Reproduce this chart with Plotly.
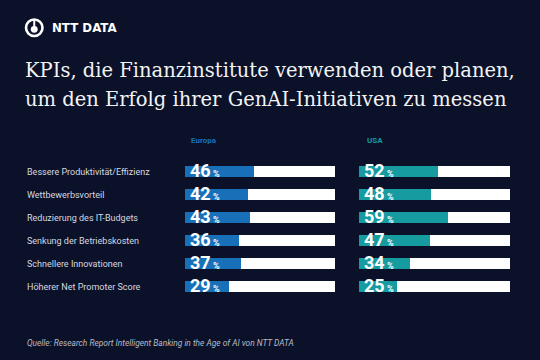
import plotly.graph_objects as go

categories = ["Bessere Produktivität/Effizienz", "Wettbewerbsvorteil", "Reduzierung des IT-Budgets",
              "Senkung der Betriebskosten", "Schnellere Innovationen", "Höherer Net Promoter Score"]
europa = [46, 42, 43, 36, 37, 29]
usa = [52, 48, 59, 47, 34, 25]
series_names = ["Europa", "USA"]
title_lines = ["KPIs, die Finanzinstitute verwenden oder planen,",
               "um den Erfolg ihrer GenAI-Initiativen zu messen"]
source = "Quelle: Research Report Intelligent Banking in the Age of AI von NTT DATA"

BG = "#0b1128"
C_EU = "#1770b8"
C_US = "#169ba1"
W, H = 544, 364  # slightly larger than the 540x360 window so no page edge shows

def px(x):
    return x / W

def py(y):
    return 1 - y / H

fig = go.Figure()
ypos = list(range(len(categories)))

for vals, color, xa, ya in [(europa, C_EU, "x", "y"), (usa, C_US, "x2", "y2")]:
    fig.add_trace(go.Bar(y=ypos, x=[100] * len(vals), orientation="h", marker_color="white",
                         marker_line_width=0, width=0.48, xaxis=xa, yaxis=ya, hoverinfo="skip",
                         showlegend=False))
    fig.add_trace(go.Bar(y=ypos, x=vals, orientation="h", marker_color=color,
                         marker_line_width=0, width=0.48, xaxis=xa, yaxis=ya, showlegend=False))
    for i, v in enumerate(vals):
        fig.add_annotation(x=0, y=i, xref=xa, yref=ya, xanchor="left", yanchor="middle",
                           xshift=3, yshift=1, showarrow=False,
                           text=f"<b>{v}</b><b><span style='font-size:9px'> %</span></b>",
                           font=dict(family="Roboto", size=18, color="white"))

ydom = [py(298), py(160)]
fig.update_layout(
    width=W, height=H, margin=dict(l=0, r=0, t=0, b=0),
    paper_bgcolor=BG, plot_bgcolor=BG, barmode="overlay", bargap=0,
    xaxis=dict(domain=[px(185), px(335)], range=[0, 100], visible=False, fixedrange=True),
    yaxis=dict(domain=ydom, range=[5.5, -0.5], visible=False),
    xaxis2=dict(domain=[px(359), px(510)], range=[0, 100], visible=False, anchor="y2"),
    yaxis2=dict(domain=ydom, range=[5.5, -0.5], visible=False, anchor="x2"),
)

for i, c in enumerate(categories):
    fig.add_annotation(x=px(25), y=i, xref="paper", yref="y", xanchor="left", yanchor="middle",
                       showarrow=False, text=c, font=dict(family="Roboto", size=9, color="#d6d9e0"))

fig.add_annotation(x=px(189), y=py(140), xref="paper", yref="paper", xanchor="left", yanchor="middle",
                   showarrow=False, text=f"<b>{series_names[0]}</b>",
                   font=dict(family="Roboto", size=8, color=C_EU))
fig.add_annotation(x=px(365), y=py(140), xref="paper", yref="paper", xanchor="left", yanchor="middle",
                   showarrow=False, text=f"<b>{series_names[1]}</b>",
                   font=dict(family="Roboto", size=8, color=C_US))

# title
for k, line in enumerate(title_lines):
    fig.add_annotation(x=px(23), y=py(71 + 28.5 * k), xref="paper", yref="paper", xanchor="left",
                       yanchor="middle", showarrow=False, text=line,
                       font=dict(family="DejaVu Serif", size=19.5, color="#f2f3f5"))

# source
fig.add_annotation(x=px(25), y=py(343), xref="paper", yref="paper", xanchor="left", yanchor="middle",
                   showarrow=False, text=f"<i>{source}</i>",
                   font=dict(family="Roboto", size=8.4, color="#b8bcc6"))

# logo
fig.add_shape(type="circle", xref="paper", yref="paper", x0=px(26), x1=px(42.5), y0=py(36), y1=py(19.5),
              line=dict(color="white", width=2.6), fillcolor=BG)
fig.add_shape(type="circle", xref="paper", yref="paper", x0=px(30.8), x1=px(37.7), y0=py(32.8), y1=py(25.9),
              line=dict(width=0), fillcolor="white")
fig.add_shape(type="line", xref="paper", yref="paper", x0=px(34.25), x1=px(34.25), y0=py(20.5), y1=py(26.5),
              line=dict(color="white", width=2))
fig.add_annotation(x=px(49.5), y=py(28.5), xref="paper", yref="paper", xanchor="left", yanchor="middle",
                   showarrow=False, text="<b>NTT DATA</b>",
                   font=dict(family="DejaVu Sans", size=11.8, color="white"))

fig.write_html("out.html", config={"displayModeBar": False},
               post_script=("document.body.style.margin='0';document.body.style.overflow='hidden';"
                            "document.body.style.background='" + BG + "';"
                            "document.documentElement.style.background='" + BG + "';"))
